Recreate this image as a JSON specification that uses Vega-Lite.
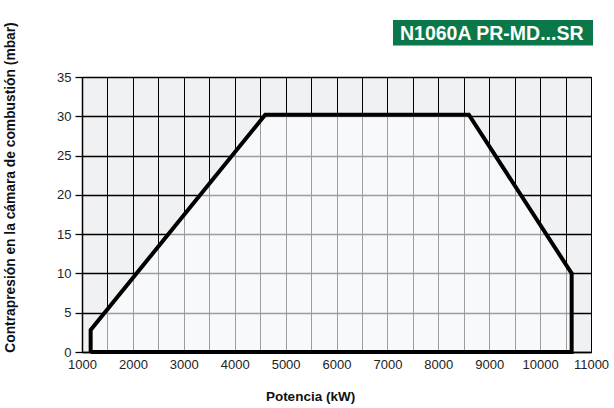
{
  "$schema": "https://vega.github.io/schema/vega-lite/v6.json",
  "width": 509,
  "height": 275,
  "autosize": {"type": "none"},
  "padding": {"left": 82, "top": 77, "right": 23, "bottom": 56},
  "background": "white",
  "config": {
    "view": {"stroke": "black", "strokeWidth": 1, "fill": "#f0f1f3"},
    "font": "Liberation Sans"
  },
  "datasets": {
    "envelope": [
      {"order": 1, "kw": 1170, "mbar": 0},
      {"order": 2, "kw": 1170, "mbar": 2.8},
      {"order": 3, "kw": 4600, "mbar": 30.2},
      {"order": 4, "kw": 8600, "mbar": 30.2},
      {"order": 5, "kw": 10620, "mbar": 10},
      {"order": 6, "kw": 10620, "mbar": 0},
      {"order": 7, "kw": 1170, "mbar": 0}
    ],
    "badge": [
      {"x1": 7110, "x2": 11040, "y1": 39.0, "y2": 42.25, "xc": 9050, "yc": 40.5, "label": "N1060A PR-MD...SR"}
    ]
  },
  "layer": [
    {
      "data": {"name": "envelope"},
      "mark": {"type": "line", "stroke": "black", "strokeWidth": 4, "fill": "#fcfdff", "fillOpacity": 0.62, "strokeJoin": "miter", "clip": false},
      "encoding": {
        "x": {
          "field": "kw", "type": "quantitative",
          "scale": {"domain": [1000, 11000], "nice": false, "zero": false},
          "axis": {
            "title": "Potencia (kW)",
            "values": [1000,1500,2000,2500,3000,3500,4000,4500,5000,5500,6000,6500,7000,7500,8000,8500,9000,9500,10000,10500,11000],
            "tickCount": 100,
            "format": "d",
            "labelExpr": "datum.value % 1000 == 0 ? datum.label : ''",
            "labelFlush": false,
            "labelOverlap": false,
            "grid": true, "gridColor": "black", "gridWidth": 1, "gridOpacity": 1,
            "ticks": false,
            "domain": true, "domainColor": "black", "domainWidth": 1.5,
            "labelFontSize": 13, "labelColor": "#222", "labelPadding": 6,
            "titleFontSize": 13.5, "titleFontWeight": "bold", "titleColor": "#111",
            "titleX": 228, "titleY": 48, "titleBaseline": "alphabetic"
          }
        },
        "y": {
          "field": "mbar", "type": "quantitative",
          "scale": {"domain": [0, 35], "nice": false},
          "axis": {
            "title": "Contrapresión en la cámara de combustión (mbar)",
            "values": [0,5,10,15,20,25,30,35],
            "tickCount": 100,
            "format": "d",
            "labelFlush": false,
            "labelOverlap": false,
            "grid": true, "gridColor": "black", "gridWidth": 1.3, "gridOpacity": 1,
            "ticks": true, "tickSize": 7, "tickColor": "black", "tickWidth": 1.3,
            "domain": true, "domainColor": "black", "domainWidth": 1.5,
            "labelFontSize": 13, "labelColor": "#222", "labelPadding": 4,
            "titleFontSize": 13.8, "titleFontWeight": "bold", "titleColor": "#111",
            "titleX": -65, "titleY": 110
          }
        },
        "order": {"field": "order", "type": "quantitative"}
      }
    },
    {
      "data": {"name": "badge"},
      "mark": {"type": "rect", "fill": "#0a7849", "clip": false},
      "encoding": {
        "x": {"field": "x1", "type": "quantitative"},
        "x2": {"field": "x2"},
        "y": {"field": "y1", "type": "quantitative"},
        "y2": {"field": "y2"}
      }
    },
    {
      "data": {"name": "badge"},
      "mark": {"type": "text", "color": "white", "fontWeight": "bold", "fontSize": 19.5, "font": "Liberation Sans", "align": "center", "baseline": "middle", "clip": false},
      "encoding": {
        "x": {"field": "xc", "type": "quantitative"},
        "y": {"field": "yc", "type": "quantitative"},
        "text": {"field": "label"}
      }
    }
  ]
}
